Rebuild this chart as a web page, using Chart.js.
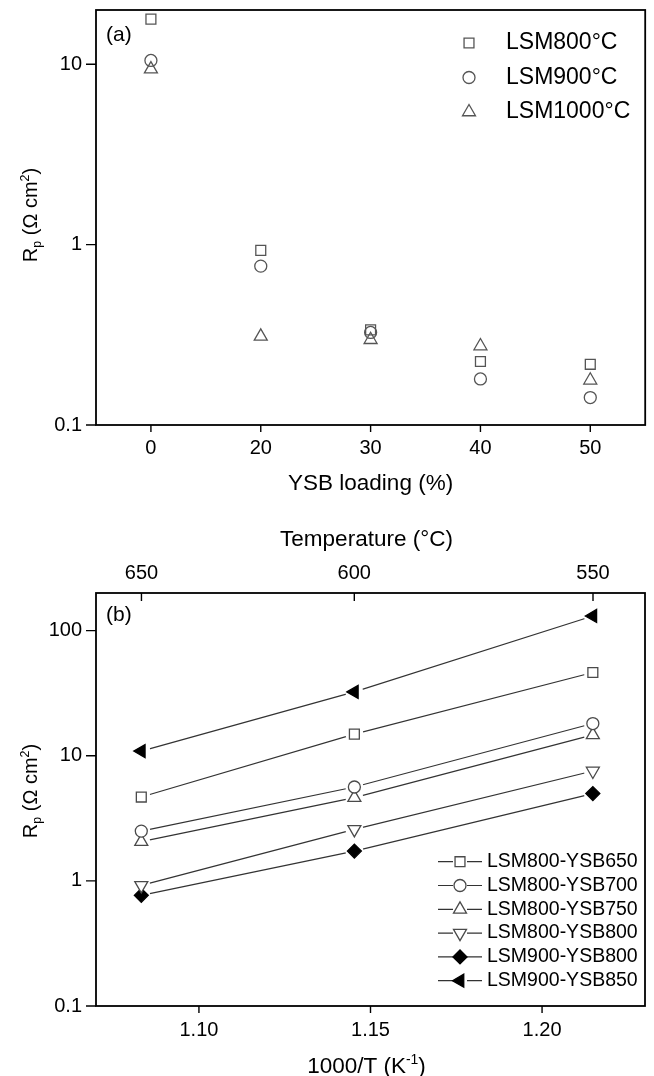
<!DOCTYPE html>
<html>
<head>
<meta charset="utf-8">
<script src="https://cdn.jsdelivr.net/npm/chart.js@4.4.1/dist/chart.umd.min.js"></script>
<style>
  html, body { margin: 0; padding: 0; background: #fff; }
  #panelA { position: absolute; left: 0; top: 0; }
  #panelB { position: absolute; left: 0; top: 515px; }
</style>
</head>
<body>
<canvas id="panelA" width="654" height="515"></canvas>
<canvas id="panelB" width="654" height="561"></canvas>
<script>
// ---- (a) polarization resistance vs YSB loading ----
const loadingLabels = ['0', '20', '30', '40', '50'];
const rpLSM800 = [17.8, 0.93, 0.337, 0.225, 0.217];
const rpLSM900 = [10.5, 0.76, 0.326, 0.180, 0.142];
const rpLSM1000 = [9.4, 0.31, 0.297, 0.274, 0.177];
const loadingSeriesNames = ['LSM800°C', 'LSM900°C', 'LSM1000°C'];

// ---- (b) Arrhenius plot ----
const invTemp = [1.0832, 1.1453, 1.2148];
const invTempTicks = [1.075, 1.100, 1.125, 1.150, 1.175, 1.200, 1.225];
const tempTickLabels = [650, 600, 550];
const rpLSM800YSB650 = [4.68, 14.9, 46.3];
const rpLSM800YSB700 = [2.50, 5.63, 18.1];
const rpLSM800YSB750 = [2.06, 4.63, 14.7];
const rpLSM800YSB800 = [0.92, 2.58, 7.56];
const rpLSM900YSB800 = [0.766, 1.73, 4.99];
const rpLSM900YSB850 = [10.9, 32.4, 131];
const arrheniusSeriesNames = ['LSM800-YSB650', 'LSM800-YSB700', 'LSM800-YSB750',
                              'LSM800-YSB800', 'LSM900-YSB800', 'LSM900-YSB850'];

const FONT = "'Liberation Sans', Arial, Helvetica, sans-serif";
Chart.defaults.font.family = FONT;
Chart.defaults.color = '#000';

const OPEN = 'rgba(0,0,0,0)';
const markersA = [
  { pointStyle: 'rect', radius: 7, rotation: 0 },
  { pointStyle: 'circle', radius: 6, rotation: 0 },
  { pointStyle: 'triangle', radius: 7.5, rotation: 0 }
];
const markersB = [
  { pointStyle: 'rect', radius: 7, rotation: 0, fill: '#fff', stroke: '#4a4a4a' },
  { pointStyle: 'circle', radius: 6, rotation: 0, fill: '#fff', stroke: '#4a4a4a' },
  { pointStyle: 'triangle', radius: 7.5, rotation: 0, fill: '#fff', stroke: '#4a4a4a' },
  { pointStyle: 'triangle', radius: 7.5, rotation: 180, fill: '#fff', stroke: '#4a4a4a' },
  { pointStyle: 'rectRot', radius: 7, rotation: 0, fill: '#000', stroke: '#000' },
  { pointStyle: 'triangle', radius: 7.5, rotation: -90, fill: '#000', stroke: '#000' }
];

function isDecade(v) {
  const l = Math.log10(v);
  return Math.abs(l - Math.round(l)) < 1e-9;
}
function decadeLabel(v) {
  if (!isDecade(v)) return null;
  return v >= 1 ? v.toFixed(0) : v.toFixed(1);
}
function fixBox(prop, size) {
  return function (scale) {
    scale[prop] = size;
    scale.paddingLeft = scale.paddingRight = scale.paddingTop = scale.paddingBottom = 0;
  };
}

function drawTicks(chart, id, side, len) {
  const s = chart.scales[id], ctx = chart.ctx, a = chart.chartArea;
  ctx.save();
  ctx.strokeStyle = '#000';
  ctx.lineWidth = 1.4;
  ctx.beginPath();
  s.ticks.forEach((t, i) => {
    const p = s.getPixelForTick(i);
    const l = len(t);
    if (side === 'left') { ctx.moveTo(a.left, p); ctx.lineTo(a.left - l, p); }
    else if (side === 'bottom') { ctx.moveTo(p, a.bottom); ctx.lineTo(p, a.bottom + l); }
    else if (side === 'topIn') { ctx.moveTo(p, a.top); ctx.lineTo(p, a.top + l); }
  });
  ctx.stroke();
  ctx.restore();
}
function drawFrame(chart) {
  const ctx = chart.ctx, a = chart.chartArea;
  ctx.save();
  ctx.strokeStyle = '#000';
  ctx.lineWidth = 1.8;
  ctx.strokeRect(a.left, a.top, a.right - a.left, a.bottom - a.top);
  ctx.restore();
}
// text with sub/superscript pieces: parts = [[text, ''|'sub'|'sup'], ...]
function drawRich(ctx, parts, x, y, size, rotate) {
  ctx.save();
  ctx.translate(x, y);
  if (rotate) ctx.rotate(-Math.PI / 2);
  ctx.textBaseline = 'alphabetic';
  ctx.textAlign = 'left';
  ctx.fillStyle = '#000';
  const spec = parts.map(([t, k]) => {
    const s = k ? size * 0.62 : size;
    ctx.font = s + 'px ' + FONT;
    return { t, s, w: ctx.measureText(t).width,
             dy: k === 'sub' ? size * 0.2 : (k === 'sup' ? -size * 0.42 : 0) };
  });
  const total = spec.reduce((acc, p) => acc + p.w, 0);
  let cx = -total / 2;
  const base = size * 0.358;
  spec.forEach(p => {
    ctx.font = p.s + 'px ' + FONT;
    ctx.fillText(p.t, cx, base + p.dy);
    cx += p.w;
  });
  ctx.restore();
}
function drawMarker(ctx, m, x, y, fill, stroke) {
  ctx.save();
  ctx.fillStyle = fill;
  ctx.strokeStyle = stroke;
  ctx.lineWidth = 1.3;
  Chart.helpers.drawPoint(ctx, { pointStyle: m.pointStyle, radius: m.radius, rotation: m.rotation, borderWidth: 1.3 }, x, y);
  ctx.restore();
}
function plainText(ctx, text, x, y, size, align) {
  ctx.save();
  ctx.font = size + 'px ' + FONT;
  ctx.fillStyle = '#000';
  ctx.textAlign = align || 'left';
  ctx.textBaseline = 'middle';
  ctx.fillText(text, x, y);
  ctx.restore();
}

const rpParts = [['R', ''], ['p', 'sub'], [' (\u03A9 cm', ''], ['2', 'sup'], [')', '']];

// ---------------- panel (a) ----------------
const seriesA = [rpLSM800, rpLSM900, rpLSM1000];
const decorA = {
  id: 'decorA',
  afterDraw(chart) {
    const ctx = chart.ctx, a = chart.chartArea;
    drawTicks(chart, 'y', 'left', t => isDecade(t.value) ? 10 : 5);
    drawTicks(chart, 'x', 'bottom', () => 7);
    drawFrame(chart);
    plainText(ctx, '(a)', 106, 35, 21);
    drawRich(ctx, [['YSB loading (%)', '']], (a.left + a.right) / 2, 482, 22.5, false);
    drawRich(ctx, rpParts, 30, 215, 20, true);
    loadingSeriesNames.forEach((name, i) => {
      const y = 43 + i * 34.5;
      drawMarker(ctx, markersA[i], 469, y, OPEN, '#555');
      plainText(ctx, name, 506, y, 23);
    });
  }
};

new Chart(document.getElementById('panelA'), {
  type: 'line',
  data: {
    labels: loadingLabels,
    datasets: seriesA.map((vals, i) => ({
      label: loadingSeriesNames[i],
      data: vals,
      showLine: false,
      pointStyle: markersA[i].pointStyle,
      pointRadius: markersA[i].radius,
      pointRotation: markersA[i].rotation,
      pointBackgroundColor: OPEN,
      pointBorderColor: '#555',
      pointBorderWidth: 1.3
    }))
  },
  options: {
    responsive: false,
    animation: false,
    events: [],
    layout: { padding: { top: 10, right: 1, left: 0, bottom: 0 } },
    plugins: { legend: { display: false }, tooltip: { enabled: false } },
    scales: {
      x: {
        type: 'category',
        offset: true,
        grid: { display: false, drawTicks: false },
        border: { display: false },
        ticks: { font: { size: 20 }, padding: 11, maxRotation: 0 },
        afterFit: fixBox('height', 90)
      },
      y: {
        type: 'logarithmic',
        min: 0.1,
        max: 20,
        grid: { display: false, drawTicks: false },
        border: { display: false },
        ticks: { font: { size: 20 }, padding: 14, autoSkip: false, callback: v => decadeLabel(v) },
        afterFit: fixBox('width', 96)
      }
    }
  },
  plugins: [decorA]
});

// ---------------- panel (b) ----------------
const seriesB = [rpLSM800YSB650, rpLSM800YSB700, rpLSM800YSB750,
                 rpLSM800YSB800, rpLSM900YSB800, rpLSM900YSB850];
const pointsOf = vals => vals.map((v, i) => ({ x: invTemp[i], y: v }));

// connecting lines, with a white halo under each marker so the line stops short of it
const lineSetsB = seriesB.map((vals, i) => ({
  label: arrheniusSeriesNames[i] + ' line',
  data: pointsOf(vals),
  showLine: true,
  borderColor: '#333',
  borderWidth: 1.2,
  pointStyle: 'circle',
  pointRadius: 9,
  pointBackgroundColor: '#fff',
  pointBorderWidth: 0,
  order: 2
}));
const markerSetsB = seriesB.map((vals, i) => ({
  label: arrheniusSeriesNames[i],
  data: pointsOf(vals),
  showLine: false,
  pointStyle: markersB[i].pointStyle,
  pointRadius: markersB[i].radius,
  pointRotation: markersB[i].rotation,
  pointBackgroundColor: markersB[i].fill,
  pointBorderColor: markersB[i].stroke,
  pointBorderWidth: 1.3,
  order: 1
}));

const decorB = {
  id: 'decorB',
  afterDraw(chart) {
    const ctx = chart.ctx, a = chart.chartArea;
    drawTicks(chart, 'y', 'left', t => isDecade(t.value) ? 10 : 5);
    drawTicks(chart, 'x', 'bottom', t => Math.abs(t.value * 20 - Math.round(t.value * 20)) < 1e-6 ? 7 : 5);
    drawTicks(chart, 'xTemp', 'topIn', () => 8);
    drawFrame(chart);
    plainText(ctx, '(b)', 106, 100, 21);
    const cx = (a.left + a.right) / 2;
    drawRich(ctx, [['Temperature (\u00B0C)', '']], cx - 4, 23, 22.5, false);
    drawRich(ctx, [['1000/T (K', ''], ['-1', 'sup'], [')', '']], cx - 4, 550, 22.5, false);
    drawRich(ctx, rpParts, 30, 276, 20, true);
    arrheniusSeriesNames.forEach((name, i) => {
      const y = 346.7 + i * 23.8;
      ctx.save();
      ctx.strokeStyle = '#333';
      ctx.lineWidth = 1.2;
      ctx.beginPath();
      ctx.moveTo(438, y); ctx.lineTo(453, y);
      ctx.moveTo(467, y); ctx.lineTo(482, y);
      ctx.stroke();
      ctx.restore();
      const m = markersB[i];
      drawMarker(ctx, m, 460, y, m.fill, m.stroke);
      plainText(ctx, name, 487, y, 19.5);
    });
  }
};

new Chart(document.getElementById('panelB'), {
  type: 'scatter',
  data: { datasets: lineSetsB.concat(markerSetsB) },
  options: {
    responsive: false,
    animation: false,
    events: [],
    layout: { padding: { top: 0, right: 1, left: 0, bottom: 0 } },
    plugins: { legend: { display: false }, tooltip: { enabled: false } },
    scales: {
      x: {
        type: 'linear',
        position: 'bottom',
        min: 1.07,
        max: 1.23,
        grid: { display: false, drawTicks: false },
        border: { display: false },
        afterBuildTicks: s => { s.ticks = invTempTicks.map(v => ({ value: v })); },
        ticks: {
          font: { size: 20 }, padding: 12, maxRotation: 0, autoSkip: false,
          callback: v => Math.abs(v * 20 - Math.round(v * 20)) < 1e-6 ? v.toFixed(2) : null
        },
        afterFit: fixBox('height', 70)
      },
      xTemp: {
        type: 'linear',
        position: 'top',
        min: 1.07,
        max: 1.23,
        grid: { display: false, drawTicks: false },
        border: { display: false },
        afterBuildTicks: s => { s.ticks = tempTickLabels.map(t => ({ value: 1000 / (t + 273.15) })); },
        ticks: {
          font: { size: 20 }, padding: 8, maxRotation: 0, autoSkip: false,
          callback: (v, i) => String(tempTickLabels[i])
        },
        afterFit: fixBox('height', 78)
      },
      y: {
        type: 'logarithmic',
        min: 0.1,
        max: 200,
        grid: { display: false, drawTicks: false },
        border: { display: false },
        ticks: { font: { size: 20 }, padding: 14, autoSkip: false, callback: v => decadeLabel(v) },
        afterFit: fixBox('width', 96)
      }
    }
  },
  plugins: [decorB]
});
</script>
</body>
</html>
